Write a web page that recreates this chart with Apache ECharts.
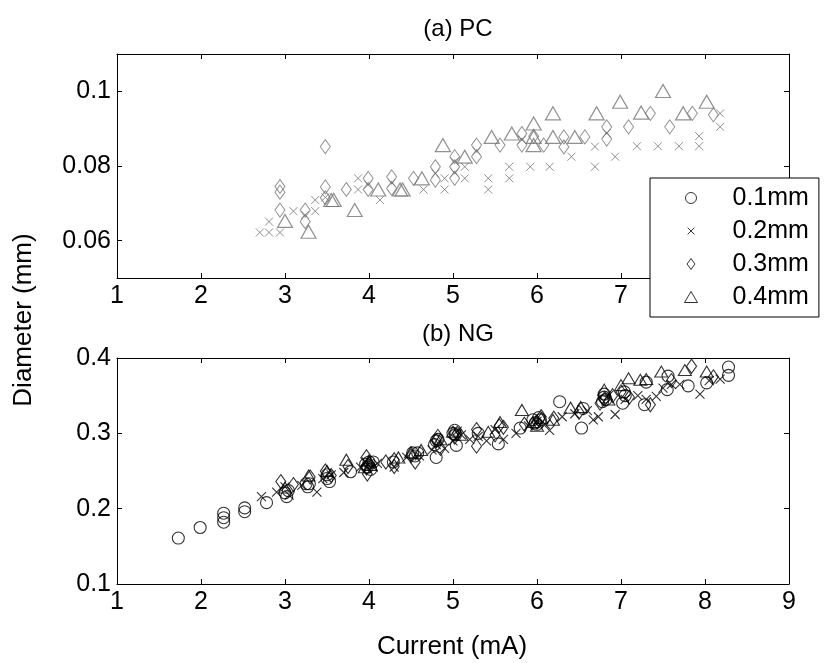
<!DOCTYPE html>
<html>
<head>
<meta charset="utf-8">
<script src="https://cdn.jsdelivr.net/npm/echarts@6/dist/echarts.min.js"></script>
<style>
html, body { margin: 0; padding: 0; background: #fff; }
#main { width: 827px; height: 663px; }
</style>
</head>
<body>
<div id="main"></div>
<script>
// (a) PC - grey markers
var pc02 = [[2.70,0.0622],[2.81,0.0622],[2.94,0.0622],[2.81,0.0651],[3.10,0.0679],[3.24,0.0669],[3.36,0.0679],[3.36,0.0709],[3.48,0.0716],[3.87,0.0767],[3.87,0.0737],[3.99,0.0750],[4.13,0.0709],[4.27,0.0755],[4.65,0.0737],[4.79,0.0780],[4.90,0.0767],[4.90,0.0737],[5.02,0.0812],[5.02,0.0782],[5.14,0.0798],[5.14,0.0767],[5.28,0.0840],[5.42,0.0767],[5.42,0.0737],[5.67,0.0798],[5.67,0.0767],[5.82,0.0870],[5.92,0.0798],[6.15,0.0798],[6.41,0.0825],[6.69,0.0852],[6.69,0.0798],[6.83,0.0888],[6.93,0.0825],[7.19,0.0853],[7.44,0.0853],[7.69,0.0853],[7.93,0.0853],[7.93,0.0880],[8.18,0.0941],[8.18,0.0905]];
var pc03 = [[2.94,0.0745],[2.94,0.0730],[2.94,0.0682],[3.24,0.0682],[3.24,0.0651],[3.48,0.0852],[3.48,0.0744],[3.48,0.0715],[3.73,0.0737],[3.99,0.0767],[3.99,0.0737],[4.27,0.0771],[4.27,0.0740],[4.53,0.0767],[4.79,0.0798],[4.79,0.0762],[5.02,0.0825],[5.02,0.0798],[5.02,0.0767],[5.28,0.0856],[5.28,0.0825],[5.56,0.0856],[5.82,0.0887],[5.82,0.0856],[5.96,0.0880],[6.08,0.0856],[6.32,0.0878],[6.32,0.0851],[6.57,0.0878],[6.83,0.0905],[6.83,0.0872],[7.09,0.0905],[7.35,0.0941],[7.58,0.0905],[7.85,0.0941],[8.10,0.0937]];
var pc04 = [[3.00,0.0653],[3.28,0.0624],[3.55,0.0709],[3.58,0.0709],[3.83,0.0682],[4.11,0.0737],[4.37,0.0737],[4.40,0.0737],[4.63,0.0767],[4.88,0.0856],[5.14,0.0825],[5.46,0.0878],[5.70,0.0887],[5.96,0.0914],[5.96,0.0878],[5.96,0.0856],[6.19,0.0941],[6.19,0.0878],[6.45,0.0878],[6.71,0.0941],[6.99,0.0972],[7.24,0.0943],[7.50,0.1001],[7.74,0.0941],[8.02,0.0972]];

// (b) NG - black markers
var ng01 = [[1.73,0.161],[1.99,0.175],[2.27,0.194],[2.27,0.188],[2.27,0.182],[2.52,0.201],[2.52,0.196],[2.78,0.208],[3.00,0.221],[3.02,0.216],[3.04,0.224],[3.25,0.233],[3.27,0.229],[3.29,0.233],[3.50,0.240],[3.50,0.245],[3.53,0.236],[3.78,0.249],[3.96,0.259],[3.98,0.255],[4.00,0.262],[4.02,0.252],[4.05,0.262],[4.29,0.262],[4.52,0.274],[4.55,0.270],[4.58,0.274],[4.78,0.285],[4.80,0.268],[4.80,0.290],[4.82,0.292],[5.00,0.300],[5.02,0.304],[5.03,0.298],[5.04,0.284],[5.30,0.300],[5.54,0.286],[5.80,0.307],[5.95,0.318],[5.98,0.314],[6.00,0.312],[6.02,0.321],[6.04,0.318],[6.27,0.342],[6.53,0.307],[6.55,0.333],[6.78,0.342],[6.80,0.348],[6.80,0.352],[6.82,0.345],[7.02,0.340],[7.04,0.355],[7.05,0.350],[7.28,0.338],[7.30,0.368],[7.55,0.358],[7.56,0.376],[7.80,0.363],[8.02,0.367],[8.28,0.388],[8.28,0.377]];
var ng02 = [[2.72,0.216],[2.90,0.222],[3.00,0.229],[3.05,0.218],[3.20,0.231],[3.38,0.222],[3.45,0.240],[3.55,0.245],[3.70,0.248],[3.90,0.255],[3.95,0.262],[4.05,0.255],[4.10,0.260],[4.30,0.255],[4.45,0.268],[4.60,0.270],[4.75,0.278],[4.80,0.285],[4.90,0.280],[5.00,0.290],[5.05,0.303],[5.10,0.298],[5.20,0.292],[5.30,0.296],[5.40,0.290],[5.50,0.305],[5.60,0.292],[5.75,0.300],[5.90,0.310],[6.00,0.316],[6.10,0.312],[6.15,0.304],[6.30,0.322],[6.45,0.326],[6.60,0.330],[6.67,0.318],[6.73,0.322],[6.85,0.350],[6.93,0.325],[7.05,0.345],[7.20,0.350],[7.30,0.345],[7.42,0.349],[7.50,0.360],[7.60,0.365],[7.70,0.365],[7.94,0.352],[8.05,0.370],[8.18,0.372]];
var ng03 = [[2.95,0.236],[3.10,0.232],[3.30,0.242],[3.48,0.250],[3.55,0.244],[3.75,0.256],[3.97,0.269],[3.97,0.254],[3.98,0.246],[4.00,0.260],[4.20,0.262],[4.30,0.256],[4.30,0.265],[4.50,0.270],[4.55,0.262],[4.80,0.290],[4.82,0.296],[4.85,0.280],[5.02,0.295],[5.05,0.300],[5.28,0.305],[5.28,0.283],[5.50,0.298],[5.55,0.310],[5.60,0.308],[5.85,0.312],[6.00,0.315],[6.05,0.322],[6.20,0.320],[6.50,0.328],[6.75,0.340],[6.80,0.345],[6.90,0.350],[7.00,0.355],[7.10,0.348],[7.35,0.338],[7.60,0.370],[7.84,0.389],[8.10,0.375]];
var ng04 = [[3.00,0.228],[3.28,0.244],[3.50,0.250],[3.73,0.265],[3.95,0.255],[4.00,0.264],[4.02,0.258],[4.35,0.268],[4.50,0.275],[4.62,0.278],[4.85,0.292],[5.00,0.302],[5.10,0.298],[5.42,0.302],[5.56,0.315],[5.82,0.331],[5.95,0.315],[6.00,0.310],[6.05,0.320],[6.19,0.318],[6.40,0.334],[6.52,0.335],[6.80,0.358],[6.85,0.345],[7.00,0.364],[7.09,0.373],[7.23,0.371],[7.30,0.372],[7.48,0.382],[7.76,0.384],[8.02,0.382]];

var legendNames = ['0.1mm', '0.2mm', '0.3mm', '0.4mm'];
var pcTicks = [0.06, 0.08, 0.1];

var FONT = 'Liberation Sans, Arial, sans-serif';
var crossPath = 'path://M0,0L10,10M10,0L0,10';
// smaller cross for the legend (empty moves widen the box)
var crossPathSmall = 'path://M0,0M13,13M2.5,2.5L10.5,10.5M10.5,2.5L2.5,10.5';
var diamondPath = 'path://M5,0L10,7L5,14L0,7Z';
var trianglePath = 'path://M0,11L6.5,0L13,11Z';
var GREY = '#747474';

var chart = echarts.init(document.getElementById('main'));

function boxAxis(grid, pos, showLabel, extra) {
	var ax = {
		gridIndex: grid,
		type: 'value',
		position: pos,
		axisLine: { show: true, onZero: false, lineStyle: { color: '#000', width: 1 } },
		axisTick: { show: true, inside: true, length: 5, lineStyle: { color: '#000' } },
		axisLabel: {
			show: showLabel,
			color: '#000',
			fontFamily: FONT,
			fontSize: 25,
			margin: 6,
			formatter: function (v) { return String(+v.toFixed(3)); }
		},
		splitLine: { show: false }
	};
	for (var k in extra) ax[k] = extra[k];
	return ax;
}

function scatter(name, data, xi, symbol, size, color, bw) {
	return {
		name: name,
		type: 'scatter',
		xAxisIndex: xi,
		yAxisIndex: xi,
		data: data,
		symbol: symbol,
		symbolSize: size,
		itemStyle: { color: 'rgba(0,0,0,0)', borderColor: color, borderWidth: bw },
		emphasis: { disabled: true },
		animation: false
	};
}

var xr = { min: 1, max: 9, interval: 1 };

var pcY = function (pos, lab) {
	var a = boxAxis(0, pos, lab, { min: 0.05, max: 0.11 });
	a.axisTick.customValues = pcTicks;
	a.axisLabel.customValues = pcTicks;
	return a;
};

var legendItem = function (name, icon) {
	return { name: name, icon: icon, itemStyle: { color: 'rgba(0,0,0,0)', borderColor: '#000', borderWidth: 1 } };
};

var option = {
	backgroundColor: '#fff',
	animation: false,
	title: [
		{ text: '(a) PC', left: 453, top: 12, textAlign: 'center',
			textStyle: { fontFamily: FONT, fontSize: 24, fontWeight: 'normal', color: '#000' } },
		{ text: '(b) NG', left: 453, top: 317, textAlign: 'center',
			textStyle: { fontFamily: FONT, fontSize: 24, fontWeight: 'normal', color: '#000' } }
	],
	grid: [
		{ left: 117, top: 54, width: 672, height: 224 },
		{ left: 117, top: 358, width: 672, height: 226 }
	],
	xAxis: [
		boxAxis(0, 'bottom', true, xr),
		boxAxis(0, 'top', false, xr),
		boxAxis(1, 'bottom', true, xr),
		boxAxis(1, 'top', false, xr)
	],
	yAxis: [
		pcY('left', true),
		pcY('right', false),
		boxAxis(1, 'left', true, { min: 0.1, max: 0.4, interval: 0.1 }),
		boxAxis(1, 'right', false, { min: 0.1, max: 0.4, interval: 0.1 })
	],
	legend: {
		orient: 'vertical',
		left: 650,
		top: 178,
		z: 20,
		backgroundColor: '#fff',
		borderColor: '#000',
		borderWidth: 1,
		padding: [7, 10, 7, 34],
		itemWidth: 13,
		itemHeight: 11,
		itemGap: 7,
		symbolKeepAspect: true,
		selectedMode: false,
		textStyle: { fontFamily: FONT, fontSize: 25, color: '#000', lineHeight: 26, padding: [0, 0, 0, 30] },
		data: [
			legendItem(legendNames[0], 'circle'),
			legendItem(legendNames[1], crossPathSmall),
			legendItem(legendNames[2], diamondPath),
			legendItem(legendNames[3], trianglePath)
		]
	},
	graphic: [
		{ type: 'text', x: 24, y: 320, rotation: Math.PI / 2,
			style: { text: 'Diameter (mm)', fontFamily: FONT, fontSize: 26, fill: '#000', textAlign: 'center', textVerticalAlign: 'middle' } },
		{ type: 'text', x: 452, y: 647,
			style: { text: 'Current (mA)', fontFamily: FONT, fontSize: 26, fill: '#000', textAlign: 'center', textVerticalAlign: 'middle' } }
	],
	series: [
		scatter('PC 0.2mm', pc02, 0, crossPath, 8, GREY, 1),
		scatter('PC 0.3mm', pc03, 0, diamondPath, [10, 14], GREY, 1),
		scatter('PC 0.4mm', pc04, 0, trianglePath, [15, 13], GREY, 1.2),
		scatter(legendNames[0], ng01, 2, 'circle', 12, '#000', 1.1),
		scatter(legendNames[1], ng02, 2, crossPath, 9, '#000', 1.1),
		scatter(legendNames[2], ng03, 2, diamondPath, [10, 14], '#000', 1.1),
		scatter(legendNames[3], ng04, 2, trianglePath, [13, 11], '#000', 1.1)
	]
};

chart.setOption(option);
</script>
</body>
</html>
